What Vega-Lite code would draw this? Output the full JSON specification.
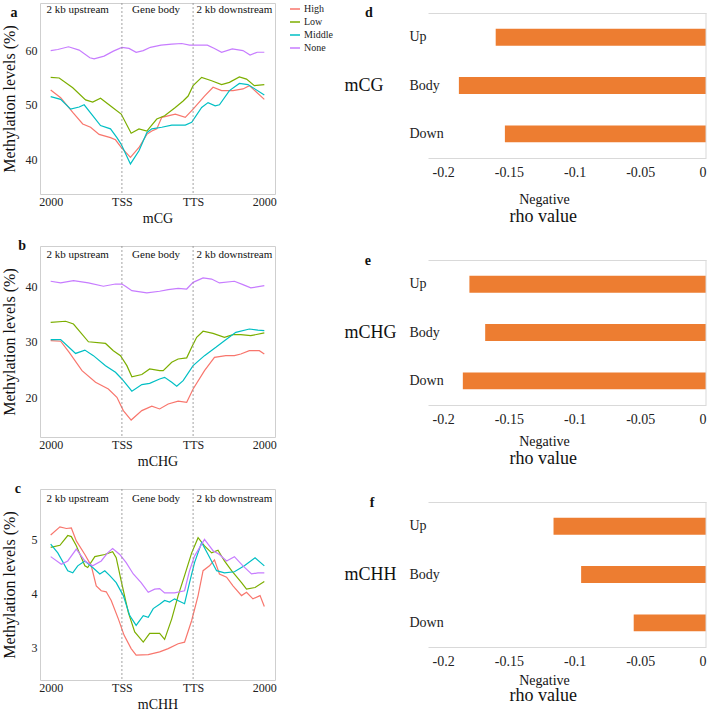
{
"$schema": "https://vega.github.io/schema/vega-lite/v6.json",
"background": "white",
"padding": {"left": 0, "top": 2, "right": 0, "bottom": 0},
"datasets": {
"lines": [
{"p":"a","g":"High","x":0,"y":52.7},{"p":"a","g":"High","x":0.14,"y":51.3},{"p":"a","g":"High","x":0.31,"y":48.6},{"p":"a","g":"High","x":0.45,"y":46.5},{"p":"a","g":"High","x":0.56,"y":45.9},{"p":"a","g":"High","x":0.68,"y":44.6},{"p":"a","g":"High","x":0.84,"y":44.0},{"p":"a","g":"High","x":0.91,"y":43.6},{"p":"a","g":"High","x":0.99,"y":42.2},{"p":"a","g":"High","x":1.12,"y":40.4},{"p":"a","g":"High","x":1.24,"y":42.2},{"p":"a","g":"High","x":1.35,"y":44.6},{"p":"a","g":"High","x":1.42,"y":45.2},{"p":"a","g":"High","x":1.49,"y":45.6},{"p":"a","g":"High","x":1.56,"y":47.7},{"p":"a","g":"High","x":1.75,"y":48.3},{"p":"a","g":"High","x":1.89,"y":47.7},{"p":"a","g":"High","x":2.0,"y":49.2},{"p":"a","g":"High","x":2.16,"y":51.6},{"p":"a","g":"High","x":2.28,"y":53.2},{"p":"a","g":"High","x":2.4,"y":52.6},{"p":"a","g":"High","x":2.56,"y":52.6},{"p":"a","g":"High","x":2.7,"y":52.9},{"p":"a","g":"High","x":2.79,"y":53.5},{"p":"a","g":"High","x":3.0,"y":51.0},
{"p":"a","g":"Low","x":0,"y":55.0},{"p":"a","g":"Low","x":0.12,"y":54.9},{"p":"a","g":"Low","x":0.31,"y":53.1},{"p":"a","g":"Low","x":0.49,"y":50.9},{"p":"a","g":"Low","x":0.59,"y":50.5},{"p":"a","g":"Low","x":0.70,"y":51.2},{"p":"a","g":"Low","x":0.86,"y":49.6},{"p":"a","g":"Low","x":0.99,"y":48.3},{"p":"a","g":"Low","x":1.13,"y":44.8},{"p":"a","g":"Low","x":1.24,"y":45.6},{"p":"a","g":"Low","x":1.35,"y":45.2},{"p":"a","g":"Low","x":1.49,"y":47.4},{"p":"a","g":"Low","x":1.6,"y":48.0},{"p":"a","g":"Low","x":1.75,"y":49.5},{"p":"a","g":"Low","x":1.86,"y":50.7},{"p":"a","g":"Low","x":1.93,"y":51.6},{"p":"a","g":"Low","x":2.0,"y":53.5},{"p":"a","g":"Low","x":2.12,"y":55.0},{"p":"a","g":"Low","x":2.26,"y":54.4},{"p":"a","g":"Low","x":2.40,"y":53.7},{"p":"a","g":"Low","x":2.51,"y":54.1},{"p":"a","g":"Low","x":2.65,"y":55.1},{"p":"a","g":"Low","x":2.75,"y":54.7},{"p":"a","g":"Low","x":2.86,"y":53.5},{"p":"a","g":"Low","x":3.0,"y":53.7},
{"p":"a","g":"Middle","x":0,"y":51.5},{"p":"a","g":"Middle","x":0.14,"y":51.0},{"p":"a","g":"Middle","x":0.28,"y":49.2},{"p":"a","g":"Middle","x":0.40,"y":49.6},{"p":"a","g":"Middle","x":0.47,"y":50.0},{"p":"a","g":"Middle","x":0.59,"y":48.0},{"p":"a","g":"Middle","x":0.70,"y":46.2},{"p":"a","g":"Middle","x":0.84,"y":45.6},{"p":"a","g":"Middle","x":0.93,"y":44.0},{"p":"a","g":"Middle","x":0.99,"y":42.8},{"p":"a","g":"Middle","x":1.12,"y":39.2},{"p":"a","g":"Middle","x":1.24,"y":41.6},{"p":"a","g":"Middle","x":1.35,"y":44.9},{"p":"a","g":"Middle","x":1.42,"y":45.6},{"p":"a","g":"Middle","x":1.56,"y":45.9},{"p":"a","g":"Middle","x":1.7,"y":46.3},{"p":"a","g":"Middle","x":1.89,"y":46.3},{"p":"a","g":"Middle","x":1.98,"y":46.8},{"p":"a","g":"Middle","x":2.12,"y":49.5},{"p":"a","g":"Middle","x":2.21,"y":50.4},{"p":"a","g":"Middle","x":2.31,"y":49.8},{"p":"a","g":"Middle","x":2.37,"y":50.0},{"p":"a","g":"Middle","x":2.51,"y":52.6},{"p":"a","g":"Middle","x":2.65,"y":53.9},{"p":"a","g":"Middle","x":2.77,"y":53.7},{"p":"a","g":"Middle","x":3.0,"y":51.8},
{"p":"a","g":"None","x":0,"y":59.9},{"p":"a","g":"None","x":0.1,"y":60.1},{"p":"a","g":"None","x":0.25,"y":60.6},{"p":"a","g":"None","x":0.4,"y":60.0},{"p":"a","g":"None","x":0.55,"y":58.6},{"p":"a","g":"None","x":0.61,"y":58.4},{"p":"a","g":"None","x":0.75,"y":58.9},{"p":"a","g":"None","x":0.88,"y":59.8},{"p":"a","g":"None","x":1.0,"y":60.5},{"p":"a","g":"None","x":1.1,"y":60.3},{"p":"a","g":"None","x":1.2,"y":59.6},{"p":"a","g":"None","x":1.3,"y":59.9},{"p":"a","g":"None","x":1.4,"y":60.5},{"p":"a","g":"None","x":1.55,"y":60.9},{"p":"a","g":"None","x":1.7,"y":61.1},{"p":"a","g":"None","x":1.84,"y":61.2},{"p":"a","g":"None","x":1.95,"y":60.9},{"p":"a","g":"None","x":2.1,"y":60.9},{"p":"a","g":"None","x":2.2,"y":60.9},{"p":"a","g":"None","x":2.3,"y":60.3},{"p":"a","g":"None","x":2.4,"y":59.6},{"p":"a","g":"None","x":2.55,"y":60.2},{"p":"a","g":"None","x":2.7,"y":59.9},{"p":"a","g":"None","x":2.8,"y":59.1},{"p":"a","g":"None","x":2.9,"y":59.6},{"p":"a","g":"None","x":3.0,"y":59.6},
{"p":"b","g":"High","x":0,"y":30.2},{"p":"b","g":"High","x":0.14,"y":30.1},{"p":"b","g":"High","x":0.26,"y":28.1},{"p":"b","g":"High","x":0.44,"y":24.8},{"p":"b","g":"High","x":0.63,"y":22.7},{"p":"b","g":"High","x":0.81,"y":21.5},{"p":"b","g":"High","x":0.93,"y":20.0},{"p":"b","g":"High","x":1.02,"y":17.6},{"p":"b","g":"High","x":1.13,"y":15.9},{"p":"b","g":"High","x":1.28,"y":17.6},{"p":"b","g":"High","x":1.42,"y":18.4},{"p":"b","g":"High","x":1.53,"y":17.9},{"p":"b","g":"High","x":1.65,"y":18.8},{"p":"b","g":"High","x":1.79,"y":19.3},{"p":"b","g":"High","x":1.91,"y":19.1},{"p":"b","g":"High","x":2.0,"y":21.5},{"p":"b","g":"High","x":2.16,"y":24.8},{"p":"b","g":"High","x":2.30,"y":27.2},{"p":"b","g":"High","x":2.46,"y":27.5},{"p":"b","g":"High","x":2.58,"y":27.5},{"p":"b","g":"High","x":2.67,"y":27.8},{"p":"b","g":"High","x":2.79,"y":28.4},{"p":"b","g":"High","x":2.93,"y":28.4},{"p":"b","g":"High","x":3.0,"y":27.8},
{"p":"b","g":"Low","x":0,"y":33.5},{"p":"b","g":"Low","x":0.21,"y":33.7},{"p":"b","g":"Low","x":0.32,"y":33.2},{"p":"b","g":"Low","x":0.53,"y":30.0},{"p":"b","g":"Low","x":0.77,"y":29.7},{"p":"b","g":"Low","x":0.88,"y":28.4},{"p":"b","g":"Low","x":0.98,"y":27.5},{"p":"b","g":"Low","x":1.07,"y":25.7},{"p":"b","g":"Low","x":1.14,"y":23.7},{"p":"b","g":"Low","x":1.28,"y":24.1},{"p":"b","g":"Low","x":1.39,"y":25.1},{"p":"b","g":"Low","x":1.53,"y":24.8},{"p":"b","g":"Low","x":1.58,"y":24.8},{"p":"b","g":"Low","x":1.70,"y":26.3},{"p":"b","g":"Low","x":1.79,"y":26.9},{"p":"b","g":"Low","x":1.91,"y":27.1},{"p":"b","g":"Low","x":1.98,"y":29.0},{"p":"b","g":"Low","x":2.05,"y":30.8},{"p":"b","g":"Low","x":2.14,"y":31.9},{"p":"b","g":"Low","x":2.28,"y":31.5},{"p":"b","g":"Low","x":2.44,"y":30.8},{"p":"b","g":"Low","x":2.56,"y":31.3},{"p":"b","g":"Low","x":2.67,"y":31.3},{"p":"b","g":"Low","x":2.81,"y":31.1},{"p":"b","g":"Low","x":3.0,"y":31.6},
{"p":"b","g":"Middle","x":0,"y":30.4},{"p":"b","g":"Middle","x":0.14,"y":30.4},{"p":"b","g":"Middle","x":0.35,"y":27.9},{"p":"b","g":"Middle","x":0.48,"y":28.5},{"p":"b","g":"Middle","x":0.60,"y":27.5},{"p":"b","g":"Middle","x":0.77,"y":25.7},{"p":"b","g":"Middle","x":0.91,"y":24.5},{"p":"b","g":"Middle","x":1.0,"y":23.3},{"p":"b","g":"Middle","x":1.14,"y":21.1},{"p":"b","g":"Middle","x":1.28,"y":22.3},{"p":"b","g":"Middle","x":1.39,"y":22.5},{"p":"b","g":"Middle","x":1.53,"y":23.3},{"p":"b","g":"Middle","x":1.60,"y":23.6},{"p":"b","g":"Middle","x":1.70,"y":22.7},{"p":"b","g":"Middle","x":1.77,"y":22.0},{"p":"b","g":"Middle","x":1.86,"y":23.0},{"p":"b","g":"Middle","x":2.0,"y":25.7},{"p":"b","g":"Middle","x":2.16,"y":27.5},{"p":"b","g":"Middle","x":2.32,"y":29.0},{"p":"b","g":"Middle","x":2.44,"y":30.2},{"p":"b","g":"Middle","x":2.60,"y":31.7},{"p":"b","g":"Middle","x":2.79,"y":32.3},{"p":"b","g":"Middle","x":2.91,"y":32.1},{"p":"b","g":"Middle","x":3.0,"y":32.0},
{"p":"b","g":"None","x":0,"y":40.9},{"p":"b","g":"None","x":0.14,"y":40.6},{"p":"b","g":"None","x":0.32,"y":41.0},{"p":"b","g":"None","x":0.53,"y":40.6},{"p":"b","g":"None","x":0.74,"y":40.0},{"p":"b","g":"None","x":0.91,"y":40.4},{"p":"b","g":"None","x":1.0,"y":40.4},{"p":"b","g":"None","x":1.05,"y":40.0},{"p":"b","g":"None","x":1.14,"y":39.2},{"p":"b","g":"None","x":1.35,"y":38.8},{"p":"b","g":"None","x":1.53,"y":39.1},{"p":"b","g":"None","x":1.65,"y":39.4},{"p":"b","g":"None","x":1.79,"y":39.6},{"p":"b","g":"None","x":1.91,"y":39.5},{"p":"b","g":"None","x":2.0,"y":40.7},{"p":"b","g":"None","x":2.14,"y":41.5},{"p":"b","g":"None","x":2.26,"y":41.3},{"p":"b","g":"None","x":2.37,"y":40.6},{"p":"b","g":"None","x":2.58,"y":40.9},{"p":"b","g":"None","x":2.70,"y":40.3},{"p":"b","g":"None","x":2.81,"y":39.7},{"p":"b","g":"None","x":3.0,"y":40.1},
{"p":"c","g":"High","x":0,"y":5.08},{"p":"c","g":"High","x":0.13,"y":5.23},{"p":"c","g":"High","x":0.22,"y":5.20},{"p":"c","g":"High","x":0.29,"y":5.21},{"p":"c","g":"High","x":0.36,"y":4.97},{"p":"c","g":"High","x":0.48,"y":4.72},{"p":"c","g":"High","x":0.57,"y":4.51},{"p":"c","g":"High","x":0.64,"y":4.14},{"p":"c","g":"High","x":0.71,"y":4.05},{"p":"c","g":"High","x":0.78,"y":4.03},{"p":"c","g":"High","x":0.85,"y":3.87},{"p":"c","g":"High","x":0.95,"y":3.53},{"p":"c","g":"High","x":1.03,"y":3.23},{"p":"c","g":"High","x":1.13,"y":2.98},{"p":"c","g":"High","x":1.20,"y":2.86},{"p":"c","g":"High","x":1.37,"y":2.87},{"p":"c","g":"High","x":1.53,"y":2.92},{"p":"c","g":"High","x":1.65,"y":2.98},{"p":"c","g":"High","x":1.79,"y":3.07},{"p":"c","g":"High","x":1.88,"y":3.10},{"p":"c","g":"High","x":1.98,"y":3.50},{"p":"c","g":"High","x":2.07,"y":3.96},{"p":"c","g":"High","x":2.14,"y":4.42},{"p":"c","g":"High","x":2.23,"y":4.51},{"p":"c","g":"High","x":2.30,"y":4.62},{"p":"c","g":"High","x":2.37,"y":4.36},{"p":"c","g":"High","x":2.47,"y":4.30},{"p":"c","g":"High","x":2.56,"y":4.14},{"p":"c","g":"High","x":2.68,"y":3.96},{"p":"c","g":"High","x":2.75,"y":4.02},{"p":"c","g":"High","x":2.84,"y":3.90},{"p":"c","g":"High","x":2.94,"y":3.96},{"p":"c","g":"High","x":3.0,"y":3.76},
{"p":"c","g":"Low","x":0,"y":4.85},{"p":"c","g":"Low","x":0.13,"y":4.89},{"p":"c","g":"Low","x":0.24,"y":5.07},{"p":"c","g":"Low","x":0.29,"y":5.05},{"p":"c","g":"Low","x":0.36,"y":4.88},{"p":"c","g":"Low","x":0.48,"y":4.51},{"p":"c","g":"Low","x":0.52,"y":4.48},{"p":"c","g":"Low","x":0.62,"y":4.68},{"p":"c","g":"Low","x":0.76,"y":4.72},{"p":"c","g":"Low","x":0.87,"y":4.77},{"p":"c","g":"Low","x":0.92,"y":4.66},{"p":"c","g":"Low","x":0.99,"y":4.23},{"p":"c","g":"Low","x":1.09,"y":3.65},{"p":"c","g":"Low","x":1.18,"y":3.29},{"p":"c","g":"Low","x":1.30,"y":3.10},{"p":"c","g":"Low","x":1.39,"y":3.26},{"p":"c","g":"Low","x":1.53,"y":3.26},{"p":"c","g":"Low","x":1.60,"y":3.15},{"p":"c","g":"Low","x":1.70,"y":3.53},{"p":"c","g":"Low","x":1.79,"y":3.96},{"p":"c","g":"Low","x":1.88,"y":4.33},{"p":"c","g":"Low","x":1.98,"y":4.75},{"p":"c","g":"Low","x":2.07,"y":5.03},{"p":"c","g":"Low","x":2.16,"y":4.88},{"p":"c","g":"Low","x":2.26,"y":4.75},{"p":"c","g":"Low","x":2.35,"y":4.80},{"p":"c","g":"Low","x":2.44,"y":4.60},{"p":"c","g":"Low","x":2.54,"y":4.42},{"p":"c","g":"Low","x":2.68,"y":4.20},{"p":"c","g":"Low","x":2.75,"y":4.08},{"p":"c","g":"Low","x":2.87,"y":4.11},{"p":"c","g":"Low","x":3.0,"y":4.22},
{"p":"c","g":"Middle","x":0,"y":4.91},{"p":"c","g":"Middle","x":0.10,"y":4.75},{"p":"c","g":"Middle","x":0.24,"y":4.42},{"p":"c","g":"Middle","x":0.31,"y":4.38},{"p":"c","g":"Middle","x":0.38,"y":4.51},{"p":"c","g":"Middle","x":0.48,"y":4.60},{"p":"c","g":"Middle","x":0.59,"y":4.48},{"p":"c","g":"Middle","x":0.69,"y":4.36},{"p":"c","g":"Middle","x":0.76,"y":4.42},{"p":"c","g":"Middle","x":0.83,"y":4.33},{"p":"c","g":"Middle","x":0.92,"y":4.20},{"p":"c","g":"Middle","x":1.02,"y":3.96},{"p":"c","g":"Middle","x":1.11,"y":3.59},{"p":"c","g":"Middle","x":1.20,"y":3.41},{"p":"c","g":"Middle","x":1.30,"y":3.59},{"p":"c","g":"Middle","x":1.37,"y":3.56},{"p":"c","g":"Middle","x":1.44,"y":3.72},{"p":"c","g":"Middle","x":1.53,"y":3.80},{"p":"c","g":"Middle","x":1.60,"y":3.87},{"p":"c","g":"Middle","x":1.67,"y":3.84},{"p":"c","g":"Middle","x":1.74,"y":3.90},{"p":"c","g":"Middle","x":1.88,"y":3.81},{"p":"c","g":"Middle","x":1.95,"y":4.20},{"p":"c","g":"Middle","x":2.02,"y":4.57},{"p":"c","g":"Middle","x":2.12,"y":4.94},{"p":"c","g":"Middle","x":2.21,"y":4.72},{"p":"c","g":"Middle","x":2.33,"y":4.42},{"p":"c","g":"Middle","x":2.44,"y":4.38},{"p":"c","g":"Middle","x":2.58,"y":4.40},{"p":"c","g":"Middle","x":2.72,"y":4.51},{"p":"c","g":"Middle","x":2.87,"y":4.66},{"p":"c","g":"Middle","x":3.0,"y":4.51},
{"p":"c","g":"None","x":0,"y":4.68},{"p":"c","g":"None","x":0.15,"y":4.54},{"p":"c","g":"None","x":0.24,"y":4.60},{"p":"c","g":"None","x":0.36,"y":4.82},{"p":"c","g":"None","x":0.48,"y":4.60},{"p":"c","g":"None","x":0.59,"y":4.51},{"p":"c","g":"None","x":0.71,"y":4.60},{"p":"c","g":"None","x":0.80,"y":4.75},{"p":"c","g":"None","x":0.87,"y":4.83},{"p":"c","g":"None","x":0.97,"y":4.72},{"p":"c","g":"None","x":1.06,"y":4.57},{"p":"c","g":"None","x":1.16,"y":4.36},{"p":"c","g":"None","x":1.27,"y":4.20},{"p":"c","g":"None","x":1.37,"y":4.02},{"p":"c","g":"None","x":1.46,"y":4.08},{"p":"c","g":"None","x":1.53,"y":4.09},{"p":"c","g":"None","x":1.60,"y":4.01},{"p":"c","g":"None","x":1.74,"y":4.01},{"p":"c","g":"None","x":1.88,"y":4.05},{"p":"c","g":"None","x":1.95,"y":4.42},{"p":"c","g":"None","x":2.02,"y":4.69},{"p":"c","g":"None","x":2.16,"y":5.00},{"p":"c","g":"None","x":2.21,"y":4.91},{"p":"c","g":"None","x":2.28,"y":4.79},{"p":"c","g":"None","x":2.37,"y":4.72},{"p":"c","g":"None","x":2.47,"y":4.60},{"p":"c","g":"None","x":2.58,"y":4.68},{"p":"c","g":"None","x":2.70,"y":4.51},{"p":"c","g":"None","x":2.82,"y":4.36},{"p":"c","g":"None","x":2.91,"y":4.38},{"p":"c","g":"None","x":3.0,"y":4.38}
],
"regions": [
{"p":"a","x":0.38,"y":67.3,"t":"2 kb upstream"},{"p":"a","x":1.48,"y":67.3,"t":"Gene body"},{"p":"a","x":2.58,"y":67.3,"t":"2 kb downstream"},
{"p":"b","x":0.38,"y":45.7,"t":"2 kb upstream"},{"p":"b","x":1.48,"y":45.7,"t":"Gene body"},{"p":"b","x":2.58,"y":45.7,"t":"2 kb downstream"},
{"p":"c","x":0.38,"y":5.75,"t":"2 kb upstream"},{"p":"c","x":1.48,"y":5.75,"t":"Gene body"},{"p":"c","x":2.58,"y":5.75,"t":"2 kb downstream"}
],
"marks": [{"x":1},{"x":2}],
"bars": [
{"p":"d","r":"Up","v":-0.160},{"p":"d","r":"Body","v":-0.188},{"p":"d","r":"Down","v":-0.153},
{"p":"e","r":"Up","v":-0.180},{"p":"e","r":"Body","v":-0.168},{"p":"e","r":"Down","v":-0.185},
{"p":"f","r":"Up","v":-0.116},{"p":"f","r":"Body","v":-0.095},{"p":"f","r":"Down","v":-0.055}
]
},
"hconcat": [
{
"spacing": 12,
"resolve": {"scale": {"x": "independent", "y": "independent", "color": "independent"}},
"vconcat": [
{
"width": 235, "height": 191,
"view": {"stroke": "#cfcfcf"},
"layer": [
{"data": {"name": "lines"}, "transform": [{"filter": "datum.p === 'a'"}], "mark": {"type": "line", "strokeWidth": 1.2},
"encoding": {
"x": {"field": "x", "type": "quantitative", "scale": {"domain": [-0.15, 3.15], "nice": false, "zero": false}, "axis": {"values": [0, 1, 2, 3], "labelExpr": "datum.value === 1 ? 'TSS' : (datum.value === 2 ? 'TTS' : '2000')", "title": "mCG", "grid": false, "ticks": false, "domain": false, "labelFontSize": 12, "titleFontSize": 14, "labelPadding": 2, "titlePadding": 4}},
"y": {"field": "y", "type": "quantitative", "scale": {"domain": [33.7, 68.6], "nice": false, "zero": false}, "axis": {"values": [40, 50, 60], "title": "Methylation levels (%)", "grid": false, "ticks": false, "domain": false, "labelFontSize": 12, "titleFontSize": 16, "labelPadding": 3, "titlePadding": 8}},
"color": {"field": "g", "type": "nominal", "scale": {"domain": ["High", "Low", "Middle", "None"], "range": ["#F8766D", "#7CAE00", "#00BFC4", "#C77CFF"]}, "legend": {"title": null, "orient": "right", "offset": 14, "padding": 0, "labelFontSize": 10, "symbolType": "stroke", "symbolSize": 100, "symbolStrokeWidth": 1.5, "rowPadding": 2, "labelOffset": 3}}
}},
{"data": {"name": "marks"}, "mark": {"type": "rule", "strokeDash": [2, 2], "color": "#8c8c8c", "strokeWidth": 0.8}, "encoding": {"x": {"field": "x", "type": "quantitative"}}},
{"data": {"name": "regions"}, "transform": [{"filter": "datum.p === 'a'"}], "mark": {"type": "text", "fontSize": 11, "color": "#111"}, "encoding": {"x": {"field": "x", "type": "quantitative"}, "y": {"field": "y", "type": "quantitative"}, "text": {"field": "t"}}},
{"data": {"values": [{}]}, "mark": {"type": "text", "text": "a", "fontSize": 14, "fontWeight": "bold", "color": "#111", "baseline": "middle", "align": "center"}, "encoding": {"x": {"datum": -0.515, "type": "quantitative"}, "y": {"datum": 66.8, "type": "quantitative"}}}
]
},
{
"width": 235, "height": 191,
"view": {"stroke": "#cfcfcf"},
"layer": [
{"data": {"name": "lines"}, "transform": [{"filter": "datum.p === 'b'"}], "mark": {"type": "line", "strokeWidth": 1.2},
"encoding": {
"x": {"field": "x", "type": "quantitative", "scale": {"domain": [-0.15, 3.15], "nice": false, "zero": false}, "axis": {"values": [0, 1, 2, 3], "labelExpr": "datum.value === 1 ? 'TSS' : (datum.value === 2 ? 'TTS' : '2000')", "title": "mCHG", "grid": false, "ticks": false, "domain": false, "labelFontSize": 12, "titleFontSize": 14, "labelPadding": 2, "titlePadding": 4}},
"y": {"field": "y", "type": "quantitative", "scale": {"domain": [12.85, 47.25], "nice": false, "zero": false}, "axis": {"values": [20, 30, 40], "title": "Methylation levels (%)", "grid": false, "ticks": false, "domain": false, "labelFontSize": 12, "titleFontSize": 16, "labelPadding": 3, "titlePadding": 8}},
"color": {"field": "g", "type": "nominal", "scale": {"domain": ["High", "Low", "Middle", "None"], "range": ["#F8766D", "#7CAE00", "#00BFC4", "#C77CFF"]}, "legend": null}
}},
{"data": {"name": "marks"}, "mark": {"type": "rule", "strokeDash": [2, 2], "color": "#8c8c8c", "strokeWidth": 0.8}, "encoding": {"x": {"field": "x", "type": "quantitative"}}},
{"data": {"name": "regions"}, "transform": [{"filter": "datum.p === 'b'"}], "mark": {"type": "text", "fontSize": 11, "color": "#111"}, "encoding": {"x": {"field": "x", "type": "quantitative"}, "y": {"field": "y", "type": "quantitative"}, "text": {"field": "t"}}},
{"data": {"values": [{}]}, "mark": {"type": "text", "text": "b", "fontSize": 14, "fontWeight": "bold", "color": "#111", "baseline": "middle", "align": "center"}, "encoding": {"x": {"datum": -0.40, "type": "quantitative"}, "y": {"datum": 47.2, "type": "quantitative"}}}
]
},
{
"width": 235, "height": 191,
"view": {"stroke": "#cfcfcf"},
"layer": [
{"data": {"name": "lines"}, "transform": [{"filter": "datum.p === 'c'"}], "mark": {"type": "line", "strokeWidth": 1.2},
"encoding": {
"x": {"field": "x", "type": "quantitative", "scale": {"domain": [-0.15, 3.15], "nice": false, "zero": false}, "axis": {"values": [0, 1, 2, 3], "labelExpr": "datum.value === 1 ? 'TSS' : (datum.value === 2 ? 'TTS' : '2000')", "title": "mCHH", "grid": false, "ticks": false, "domain": false, "labelFontSize": 12, "titleFontSize": 14, "labelPadding": 2, "titlePadding": 4}},
"y": {"field": "y", "type": "quantitative", "scale": {"domain": [2.4, 5.93], "nice": false, "zero": false}, "axis": {"values": [3, 4, 5], "format": "d", "title": "Methylation levels (%)", "grid": false, "ticks": false, "domain": false, "labelFontSize": 12, "titleFontSize": 16, "labelPadding": 3, "titlePadding": 14}},
"color": {"field": "g", "type": "nominal", "scale": {"domain": ["High", "Low", "Middle", "None"], "range": ["#F8766D", "#7CAE00", "#00BFC4", "#C77CFF"]}, "legend": null}
}},
{"data": {"name": "marks"}, "mark": {"type": "rule", "strokeDash": [2, 2], "color": "#8c8c8c", "strokeWidth": 0.8}, "encoding": {"x": {"field": "x", "type": "quantitative"}}},
{"data": {"name": "regions"}, "transform": [{"filter": "datum.p === 'c'"}], "mark": {"type": "text", "fontSize": 11, "color": "#111"}, "encoding": {"x": {"field": "x", "type": "quantitative"}, "y": {"field": "y", "type": "quantitative"}, "text": {"field": "t"}}},
{"data": {"values": [{}]}, "mark": {"type": "text", "text": "c", "fontSize": 14, "fontWeight": "bold", "color": "#111", "baseline": "middle", "align": "center"}, "encoding": {"x": {"datum": -0.46, "type": "quantitative"}, "y": {"datum": 5.93, "type": "quantitative"}}}
]
}
]
},
{
"spacing": 2,
"vconcat": [
{"width": 278, "height": 1, "data": {"values": [{}]}, "mark": {"type": "point", "opacity": 0, "size": 0}, "encoding": {}},
{
"spacing": 28,
"resolve": {"scale": {"x": "independent", "y": "independent"}},
"vconcat": [
{
"title": {"text": "rho value", "orient": "bottom", "anchor": "middle", "dx": 18, "fontSize": 18, "fontWeight": "normal", "offset": 2},
"vconcat": [{
"width": 278, "height": 145,
"layer": [
{"data": {"name": "bars"}, "transform": [{"filter": "datum.p === 'd'"}], "mark": {"type": "bar", "color": "#ED7D31"},
"encoding": {
"y": {"field": "r", "type": "nominal", "sort": ["Up", "Body", "Down"], "scale": {"paddingInner": 0.65, "paddingOuter": 0.325}, "axis": {"title": "mCG", "titleAngle": 0, "titleAlign": "left", "titleBaseline": "middle", "titleX": -84, "titleY": 72.5, "titleFontSize": 18, "labelAlign": "left", "labelPadding": 19, "ticks": false, "domain": false, "labelFontSize": 14}},
"x": {"field": "v", "type": "quantitative", "scale": {"domain": [-0.2115, 0], "nice": false}, "axis": {"values": [-0.2, -0.15, -0.1, -0.05, 0], "labelExpr": "'' + datum.value", "grid": false, "ticks": false, "domainColor": "#d9d9d9", "title": "Negative", "titleFontSize": 14, "labelFontSize": 14, "labelPadding": 7, "titlePadding": 13, "titleX": 116}}
}},
{"data": {"values": [{}]}, "mark": {"type": "rule", "color": "#d9d9d9"}, "encoding": {"x": {"datum": 0, "type": "quantitative", "axis": {"orient": "top", "labels": false, "ticks": false, "title": null, "domainColor": "#d9d9d9", "grid": false}}}},
{"data": {"values": [{}]}, "mark": {"type": "text", "text": "d", "fontSize": 14, "fontWeight": "bold", "color": "#111", "baseline": "middle", "align": "center", "dy": -24}, "encoding": {"x": {"datum": -0.2564, "type": "quantitative", "axis": null}, "y": {"datum": "Up", "type": "nominal"}}}
],
"resolve": {"axis": {"x": "independent"}}
}]
},
{
"title": {"text": "rho value", "orient": "bottom", "anchor": "middle", "dx": 18, "fontSize": 18, "fontWeight": "normal", "offset": 2},
"vconcat": [{
"width": 278, "height": 145,
"layer": [
{"data": {"name": "bars"}, "transform": [{"filter": "datum.p === 'e'"}], "mark": {"type": "bar", "color": "#ED7D31"},
"encoding": {
"y": {"field": "r", "type": "nominal", "sort": ["Up", "Body", "Down"], "scale": {"paddingInner": 0.65, "paddingOuter": 0.325}, "axis": {"title": "mCHG", "titleAngle": 0, "titleAlign": "left", "titleBaseline": "middle", "titleX": -84, "titleY": 72.5, "titleFontSize": 18, "labelAlign": "left", "labelPadding": 19, "ticks": false, "domain": false, "labelFontSize": 14}},
"x": {"field": "v", "type": "quantitative", "scale": {"domain": [-0.2115, 0], "nice": false}, "axis": {"values": [-0.2, -0.15, -0.1, -0.05, 0], "labelExpr": "'' + datum.value", "grid": false, "ticks": false, "domainColor": "#d9d9d9", "title": "Negative", "titleFontSize": 14, "labelFontSize": 14, "labelPadding": 7, "titlePadding": 8, "titleX": 116}}
}},
{"data": {"values": [{}]}, "mark": {"type": "rule", "color": "#d9d9d9"}, "encoding": {"x": {"datum": 0, "type": "quantitative", "axis": {"orient": "top", "labels": false, "ticks": false, "title": null, "domainColor": "#d9d9d9", "grid": false}}}},
{"data": {"values": [{}]}, "mark": {"type": "text", "text": "e", "fontSize": 14, "fontWeight": "bold", "color": "#111", "baseline": "middle", "align": "center", "dy": -23}, "encoding": {"x": {"datum": -0.2572, "type": "quantitative", "axis": null}, "y": {"datum": "Up", "type": "nominal"}}}
],
"resolve": {"axis": {"x": "independent"}}
}]
},
{
"title": {"text": "rho value", "orient": "bottom", "anchor": "middle", "dx": 18, "fontSize": 18, "fontWeight": "normal", "offset": 0},
"vconcat": [{
"width": 278, "height": 145,
"layer": [
{"data": {"name": "bars"}, "transform": [{"filter": "datum.p === 'f'"}], "mark": {"type": "bar", "color": "#ED7D31"},
"encoding": {
"y": {"field": "r", "type": "nominal", "sort": ["Up", "Body", "Down"], "scale": {"paddingInner": 0.65, "paddingOuter": 0.325}, "axis": {"title": "mCHH", "titleAngle": 0, "titleAlign": "left", "titleBaseline": "middle", "titleX": -84, "titleY": 72.5, "titleFontSize": 18, "labelAlign": "left", "labelPadding": 19, "ticks": false, "domain": false, "labelFontSize": 14}},
"x": {"field": "v", "type": "quantitative", "scale": {"domain": [-0.2115, 0], "nice": false}, "axis": {"values": [-0.2, -0.15, -0.1, -0.05, 0], "labelExpr": "'' + datum.value", "grid": false, "ticks": false, "domainColor": "#d9d9d9", "title": "Negative", "titleFontSize": 14, "labelFontSize": 14, "labelPadding": 7, "titlePadding": 5, "titleX": 116}}
}},
{"data": {"values": [{}]}, "mark": {"type": "rule", "color": "#d9d9d9"}, "encoding": {"x": {"datum": 0, "type": "quantitative", "axis": {"orient": "top", "labels": false, "ticks": false, "title": null, "domainColor": "#d9d9d9", "grid": false}}}},
{"data": {"values": [{}]}, "mark": {"type": "text", "text": "f", "fontSize": 14, "fontWeight": "bold", "color": "#111", "baseline": "middle", "align": "center", "dy": -23}, "encoding": {"x": {"datum": -0.254, "type": "quantitative", "axis": null}, "y": {"datum": "Up", "type": "nominal"}}}
],
"resolve": {"axis": {"x": "independent"}}
}]
}
]
}
]
}
],
"spacing": 10,
"resolve": {"scale": {"x": "independent", "y": "independent", "color": "independent"}},
"config": {
"font": "Liberation Serif",
"view": {"stroke": null},
"axis": {"labelFont": "Liberation Serif", "titleFont": "Liberation Serif", "labelColor": "#222", "titleColor": "#111", "titleFontWeight": "normal"},
"legend": {"labelFont": "Liberation Serif", "labelColor": "#222"},
"title": {"font": "Liberation Serif", "color": "#111"},
"text": {"font": "Liberation Serif"}
}
}
